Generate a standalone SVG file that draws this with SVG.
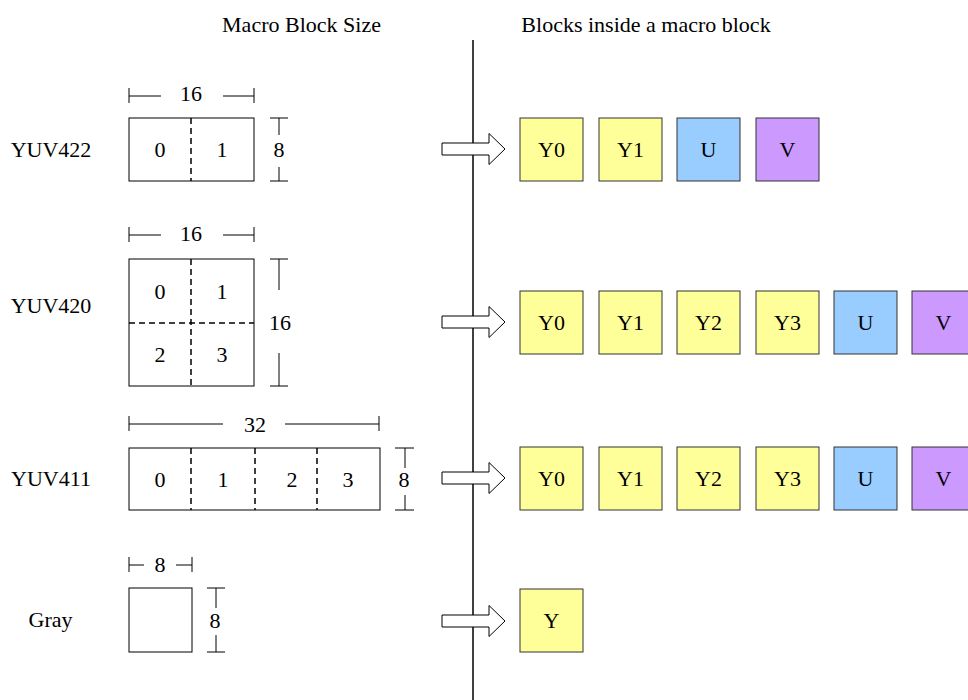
<svg xmlns="http://www.w3.org/2000/svg" width="968" height="700" viewBox="0 0 968 700">
<style>
text{font-family:"Liberation Serif","Times New Roman",serif;font-size:22px;fill:#000;text-anchor:middle}
.mb{fill:#fff;stroke:#000;stroke-width:1}
.dash{stroke:#000;stroke-width:1.5;stroke-dasharray:6,4;fill:none}
.dim{stroke:#000;stroke-width:1;fill:none}
.y{fill:#ffff99;stroke:#333;stroke-width:1}
.u{fill:#99ccff;stroke:#333;stroke-width:1}
.v{fill:#cc99ff;stroke:#333;stroke-width:1}
.arr{fill:#fff;stroke:#000;stroke-width:1}
</style>
<defs>
<path id="arrow" class="arr" d="M442,-6 H489 V-15.5 L505,0 L489,15.5 V6 H442 Z"/>
</defs>
<text x="301.5" y="32">Macro Block Size</text>
<text x="646" y="32">Blocks inside a macro block</text>
<g id="connectors">
<line x1="473" y1="40" x2="473" y2="700" stroke="#000" stroke-width="1.5"/>
<use href="#arrow" y="149"/>
<use href="#arrow" y="322"/>
<use href="#arrow" y="478"/>
<use href="#arrow" y="621"/>
</g>
<g id="yuv422">
<text x="51" y="157">YUV422</text>
<rect class="mb" x="129" y="118" width="125" height="63"/>
<line class="dash" x1="191" y1="118" x2="191" y2="181"/>
<text x="160" y="157">0</text>
<text x="222" y="157">1</text>
<path class="dim" d="M129,88V103M129,96H161M223,96H254M254,88V103"/>
<text x="191" y="101">16</text>
<path class="dim" d="M270,118H288M279,118V135M279,167V181M270,181H288"/>
<text x="279" y="157">8</text>
</g>
<g id="yuv420">
<text x="51" y="313">YUV420</text>
<rect class="mb" x="129" y="259" width="125" height="127"/>
<line class="dash" x1="191" y1="259" x2="191" y2="386"/>
<line class="dash" x1="129" y1="323" x2="254" y2="323"/>
<text x="160" y="299">0</text>
<text x="222" y="299">1</text>
<text x="160" y="362">2</text>
<text x="222" y="362">3</text>
<path class="dim" d="M129,227V242M129,235H161M223,235H254M254,227V242"/>
<text x="191" y="241">16</text>
<path class="dim" d="M270,259H288M279,259V290M279,353V386M270,386H288"/>
<text x="280" y="330">16</text>
</g>
<g id="yuv411">
<text x="51" y="486">YUV411</text>
<rect class="mb" x="129" y="448" width="251" height="62"/>
<line class="dash" x1="191" y1="448" x2="191" y2="510"/>
<line class="dash" x1="255" y1="448" x2="255" y2="510"/>
<line class="dash" x1="317" y1="448" x2="317" y2="510"/>
<text x="160" y="487">0</text>
<text x="223" y="487">1</text>
<text x="292" y="487">2</text>
<text x="348" y="487">3</text>
<path class="dim" d="M129,416V431M129,424H223M285,424H379M379,416V431"/>
<text x="255" y="432">32</text>
<path class="dim" d="M395,448H414M405,448V468M405,495V510M395,510H414"/>
<text x="404" y="487">8</text>
</g>
<g id="gray">
<text x="50.5" y="627">Gray</text>
<rect class="mb" x="129" y="588" width="63" height="64"/>
<path class="dim" d="M129,557V572M129,565H144M176,565H192M192,557V572"/>
<text x="160" y="572">8</text>
<path class="dim" d="M207,588H225M216,588V608M216,635V652M207,652H225"/>
<text x="215" y="628">8</text>
</g>
<g id="blocks422">
<rect class="y" x="520" y="118" width="63" height="63"/><text x="551.5" y="157">Y0</text>
<rect class="y" x="599" y="118" width="63" height="63"/><text x="630.5" y="157">Y1</text>
<rect class="u" x="677" y="118" width="63" height="63"/><text x="708.5" y="157">U</text>
<rect class="v" x="756" y="118" width="63" height="63"/><text x="787.5" y="157">V</text>
</g>
<g id="blocks420">
<rect class="y" x="520" y="291" width="63" height="63"/><text x="551.5" y="330">Y0</text>
<rect class="y" x="599" y="291" width="63" height="63"/><text x="630.5" y="330">Y1</text>
<rect class="y" x="677" y="291" width="63" height="63"/><text x="708.5" y="330">Y2</text>
<rect class="y" x="756" y="291" width="63" height="63"/><text x="787.5" y="330">Y3</text>
<rect class="u" x="834" y="291" width="63" height="63"/><text x="865.5" y="330">U</text>
<rect class="v" x="912" y="291" width="63" height="63"/><text x="943.5" y="330">V</text>
</g>
<g id="blocks411">
<rect class="y" x="520" y="447" width="63" height="63"/><text x="551.5" y="486">Y0</text>
<rect class="y" x="599" y="447" width="63" height="63"/><text x="630.5" y="486">Y1</text>
<rect class="y" x="677" y="447" width="63" height="63"/><text x="708.5" y="486">Y2</text>
<rect class="y" x="756" y="447" width="63" height="63"/><text x="787.5" y="486">Y3</text>
<rect class="u" x="834" y="447" width="63" height="63"/><text x="865.5" y="486">U</text>
<rect class="v" x="912" y="447" width="63" height="63"/><text x="943.5" y="486">V</text>
</g>
<g id="blocksgray">
<rect class="y" x="520" y="589" width="63" height="63"/><text x="551.5" y="628">Y</text>
</g>
</svg>
